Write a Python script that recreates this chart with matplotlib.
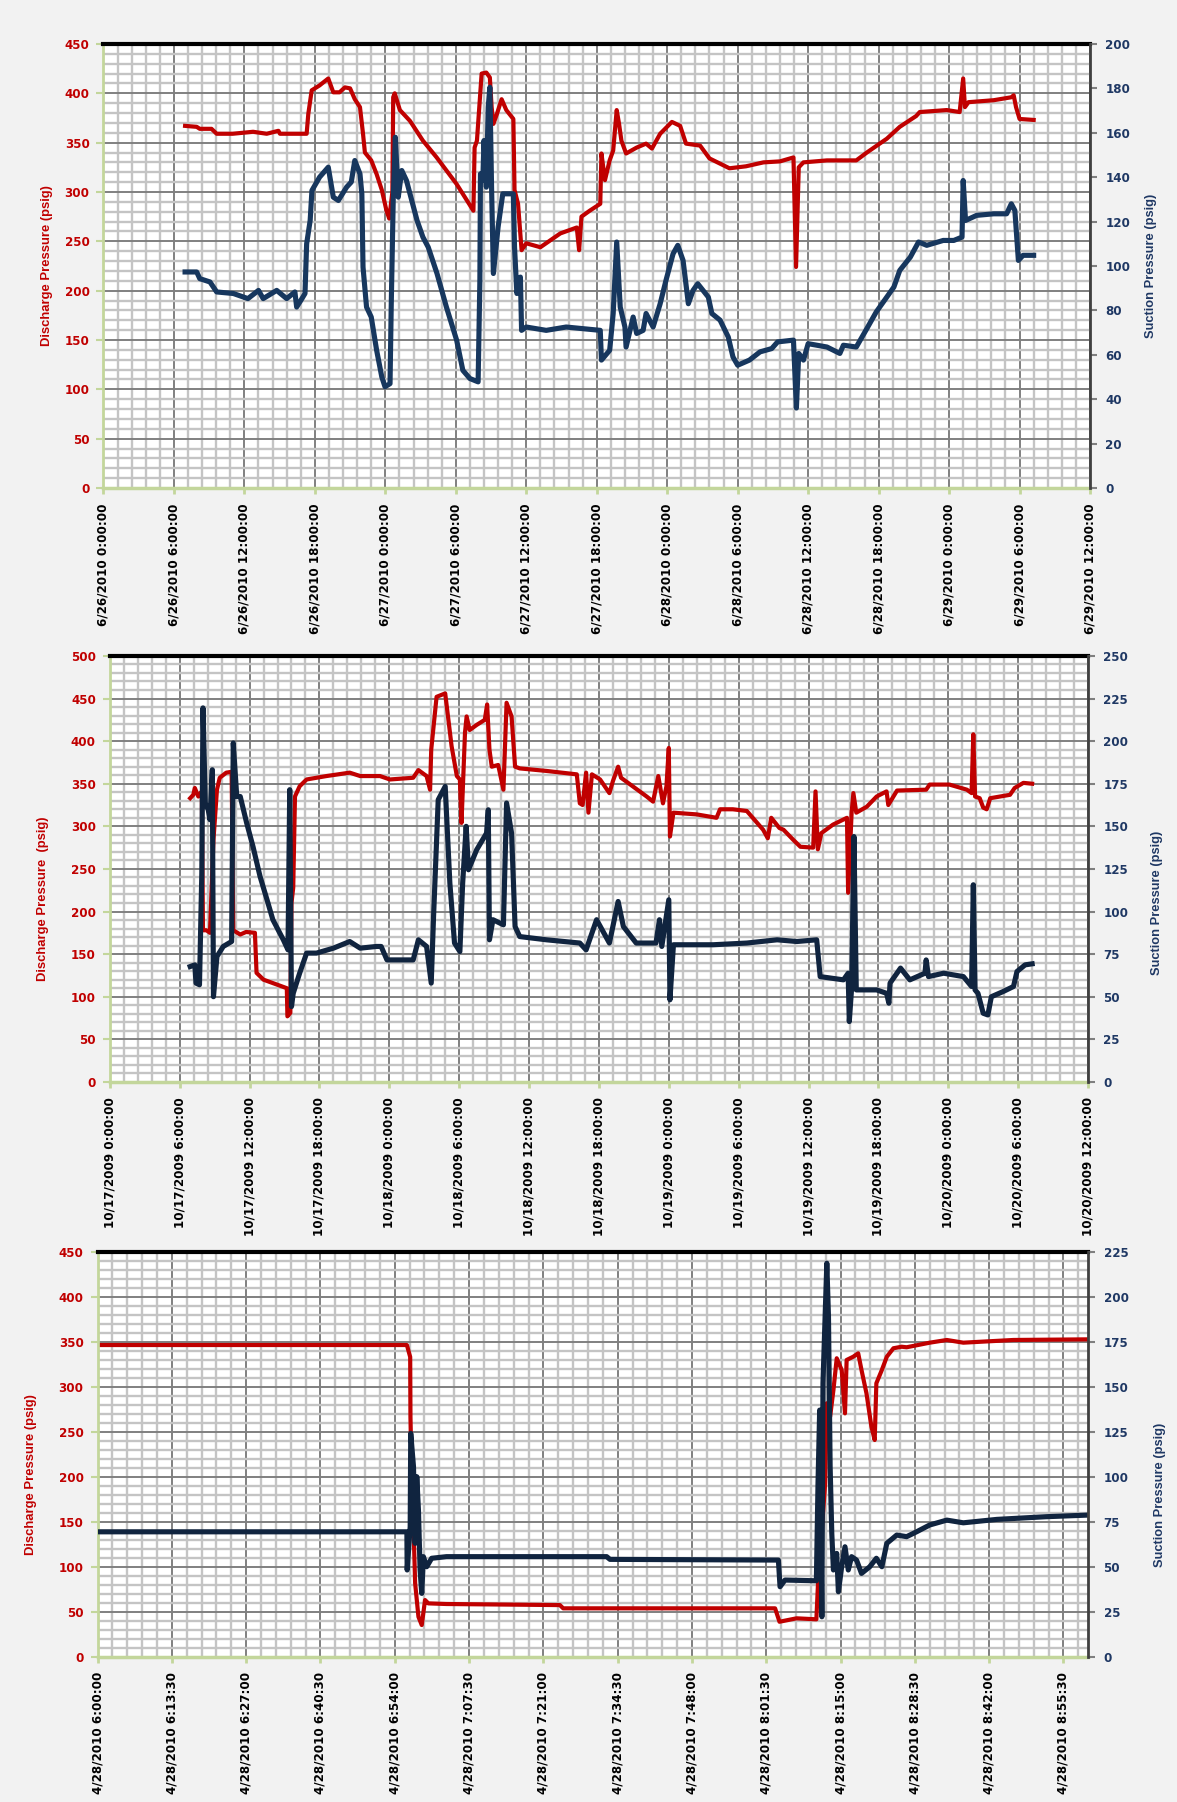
import matplotlib.pyplot as plt
from matplotlib.ticker import MultipleLocator

plt.rcParams['font.family'] = ['DejaVu Sans']
plt.rcParams['font.weight'] = 'bold'

RED = '#c00000'
NAVY = '#1f3864'
GREEN = '#c3d69b'

# ---------------- panel 1 : 6/26/2010 - 6/29/2010 (hours from 6/26 0:00)
top_dis_t = [6.95, 7.94, 8.2, 9.2, 9.64, 11.0, 12.74, 13.9, 14.9, 15.03, 17.3, 17.44, 17.73, 18.4,
             19.14, 19.57, 20.1, 20.56, 21.0, 21.4, 21.84, 22.1, 22.26, 22.8, 23.26, 23.7, 24.1,
             24.33, 24.6, 24.67, 24.8, 25.24, 26.1, 27.2, 28.37, 30.07, 31.5, 31.6, 31.8, 32.2,
             32.6, 32.9, 33.05, 33.2, 33.5, 33.9, 34.3, 34.9, 35.0, 35.3, 35.6, 36.0, 37.2, 38.9,
             40.3, 40.5, 40.7, 41.4, 42.3, 42.4, 42.7, 43.1, 43.4, 43.7, 43.9, 44.1, 44.5, 45.4,
             46.2, 46.7, 47.4, 48.4, 49.1, 49.6, 50.8, 51.6, 53.3, 54.7, 56.2, 57.6, 58.75, 58.97,
             59.2, 59.6, 61.6, 64.1, 65.0, 66.7, 67.8, 69.2, 69.5, 71.8, 72.9, 73.2, 73.35, 73.65,
             75.8, 77.3, 77.5, 77.7, 78.0, 79.2]
top_dis = [367, 366, 364, 364, 359, 359, 361, 359, 362, 359, 359, 379, 403, 408,
           415, 401, 401, 406, 405, 394, 386, 359, 340, 332, 318, 302, 281,
           273, 300, 396, 400, 383, 372, 352, 335, 308, 281, 345, 352, 420,
           421, 416, 386, 369, 379, 394, 383, 374, 302, 288, 241, 248, 244, 258,
           264, 241, 275, 281, 288, 339, 312, 332, 342, 383, 369, 352, 339, 345,
           349, 344, 359, 371, 367, 349, 347, 334, 324, 326, 330, 331, 335, 224,
           325, 330, 332, 332, 340, 354, 366, 377, 381, 383, 381, 415, 386, 391,
           393, 396, 398, 386, 374, 373]

top_suc_t = [6.95, 7.94, 8.2, 9.07, 9.64, 11.06, 12.3, 13.2, 13.6, 14.75, 15.6, 16.3, 16.45, 16.9,
             17.16, 17.3, 17.6, 17.75, 18.4, 19.14, 19.57, 20.0, 20.7, 21.1, 21.4, 21.84, 22.0,
             22.1, 22.4, 22.8, 23.26, 23.7, 23.97, 24.4, 24.5, 24.67, 24.85, 25.1, 25.4, 25.8,
             26.7, 27.2, 27.65, 28.4, 29.2, 30.07, 30.6, 31.2, 31.9, 32.05, 32.1, 32.3, 32.4,
             32.6, 32.76, 32.9, 33.05, 33.2, 33.6, 34.0, 34.9, 35.0, 35.2, 35.5, 35.6, 36.0,
             37.7, 39.4, 42.3, 42.4, 43.1, 43.4, 43.7, 44.0, 44.4, 44.5, 45.1, 45.4, 45.95,
             46.2, 46.8, 47.4, 47.9, 48.5, 48.9, 49.35, 49.8, 50.2, 50.6, 51.5, 51.8, 52.5,
             53.2, 53.6, 54.0, 55.0, 55.9, 56.9, 57.4, 58.75, 59.0, 59.2, 59.6, 60.0, 61.6,
             62.7, 63.0, 64.1, 65.0, 65.8, 66.7, 67.3, 67.8, 68.7, 69.4, 70.1, 71.5, 72.4,
             73.1, 73.2, 73.4, 74.35, 75.8, 76.9, 77.3, 77.6, 77.9, 78.3, 79.2]
top_suc = [97.3, 97.3, 94.3, 92.8, 88.3, 87.6, 85.3, 89, 85.3, 89, 85.3, 88.3, 81.5, 85.3,
           87.6, 110, 120.5, 134, 140, 144.5, 131, 129.5, 135.5, 137.8, 147.5, 141.5, 132.5,
           99.5, 81.5, 77, 62, 50, 45.6, 47, 81.5, 129.5, 158, 131, 143, 138.5,
           120.5, 113, 108.5, 96.6, 81.5, 66.6, 53, 49.3, 47.8, 93.6, 141.5, 138.5, 156.5,
           135.5, 171.5, 180.5, 134, 96.6, 117.5, 132.5, 132.5, 108.5, 87.6, 95, 71, 72.5,
           71, 72.5, 71, 57.6, 62, 78.6, 110.8, 81.5, 72.5, 63.5, 77, 69.6, 71,
           78.6, 72.5, 83, 93.6, 105.5, 109.3, 102.5, 83, 89, 92, 86, 78.6, 75.6,
           68, 59, 55.3, 57.6, 61.3, 62.8, 65.8, 66.6, 36, 60.6, 57.6, 65, 63.5,
           60.6, 64.3, 63.5, 71.8, 79.3, 86, 90.5, 98, 104, 110.8, 109.3, 111.5, 111.5,
           113, 138.5, 120.5, 122.8, 123.5, 123.5, 128, 125, 102.5, 104.8, 104.8]

top_xlabels = ["6/26/2010 0:00:00", "6/26/2010 6:00:00", "6/26/2010 12:00:00", "6/26/2010 18:00:00",
               "6/27/2010 0:00:00", "6/27/2010 6:00:00", "6/27/2010 12:00:00", "6/27/2010 18:00:00",
               "6/28/2010 0:00:00", "6/28/2010 6:00:00", "6/28/2010 12:00:00", "6/28/2010 18:00:00",
               "6/29/2010 0:00:00", "6/29/2010 6:00:00", "6/29/2010 12:00:00"]

# ---------------- panel 2 : 10/17/2009 - 10/20/2009 (hours from 10/17 0:00)
mid_dis_t = [6.9, 7.17, 7.3, 7.6, 7.9, 8.0, 8.3, 8.6, 8.9, 9.2, 9.44, 10.0, 10.46, 10.6, 11.2, 11.7,
             12.46, 12.6, 13.2, 14.0, 15.2, 15.25, 15.5, 15.6, 15.75, 15.9, 16.3, 16.9, 18.6, 20.6,
             21.5, 23.2, 24.05, 26.05, 26.5, 27.2, 27.5, 27.6, 28.06, 28.8, 29.35, 29.8, 30.06,
             30.2, 30.5, 30.64, 30.9, 31.5, 32.2, 32.4, 32.6, 32.8, 33.35, 33.8, 34.07, 34.5, 34.8,
             35.2, 37.5, 40.1, 40.36, 40.6, 40.9, 41.1, 41.4, 42.1, 42.9, 43.2, 43.65, 43.9, 44.9,
             46.1, 46.65, 47.1, 47.5, 47.8, 48.0, 48.1, 48.4, 50.4, 52.1, 52.4, 53.5, 54.7, 56.1,
             56.5, 56.8, 57.5, 57.85, 58.7, 59.3, 60.4, 60.6, 60.8, 61.1, 62.1, 63.3, 63.4, 63.7,
             63.85, 64.1, 65.0, 65.85, 66.7, 66.85, 67.6, 70.1, 70.4, 72.1, 73.6, 74.0, 74.15,
             74.3, 74.7, 75.0, 75.3, 75.6, 77.3, 77.7, 78.45, 79.2]
mid_dis = [333, 337, 345, 335, 341, 178, 178, 175, 284, 343, 357, 363, 364, 178, 173, 176,
           175, 128, 120, 116, 110, 77, 81, 210, 228, 335, 347, 355, 359, 363,
           359, 359, 355, 357, 366, 359, 343, 390, 452, 456, 394, 359, 355,
           304, 410, 429, 413, 419, 425, 443, 390, 370, 372, 343, 445, 429, 370,
           368, 365, 361, 327, 325, 363, 316, 361, 355, 339, 353, 370, 357, 347,
           335, 329, 359, 327, 347, 392, 288, 316, 314, 310, 320, 320, 318, 296,
           286, 310, 298, 296, 284, 276, 275, 341, 273, 292, 302, 310, 222, 316,
           339, 316, 323, 335, 341, 325, 342, 343, 349, 349, 343, 339, 408,
           335, 333, 322, 320, 333, 337, 345, 351, 350]

mid_suc_t = [6.9, 7.3, 7.4, 7.7, 7.9, 8.0, 8.2, 8.45, 8.6, 8.8, 8.9, 9.2, 9.74, 10.46, 10.6, 10.9,
             11.2, 11.75, 12.3, 12.9, 13.5, 14.0, 14.9, 15.3, 15.45, 15.6, 15.75, 16.3, 16.9,
             17.75, 19.2, 20.6, 21.5, 22.9, 23.3, 23.8, 26.05, 26.5, 27.2, 27.6, 27.8, 28.2,
             28.8, 29.2, 29.6, 30.06, 30.3, 30.6, 30.8, 31.5, 32.35, 32.5, 32.6, 32.9, 33.8,
             34.07, 34.5, 34.8, 35.2, 37.5, 40.36, 40.9, 41.8, 42.9, 43.65, 44.1, 45.2, 46.9,
             47.2, 47.4, 48.0, 48.1, 48.4, 51.8, 54.7, 57.3, 59.0, 60.7, 61.0, 63.0, 63.4, 63.5,
             63.7, 63.9, 64.1, 65.85, 66.7, 66.9, 67.0, 67.9, 68.7, 70.0, 70.1, 70.3, 71.6,
             73.3, 74.0, 74.15, 74.3, 74.55, 75.0, 75.4, 75.7, 76.7, 77.6, 77.9, 78.6, 79.2]
mid_suc = [67.7, 68.7, 58, 57, 122.6, 219.5, 163.7, 159.7, 153.9, 183.2, 50, 73.6, 79.5, 82.4,
           198.9, 167.5, 167.5, 152, 138, 120.6, 106.9, 95.2, 83.4, 77.5, 171.5, 44.2, 52,
           63.8, 75.6, 75.6, 78.5, 82.4, 78.5, 79.5, 79.5, 71.6, 71.6, 83.4, 79.5, 58, 97,
           165.6, 173.4, 116.7, 81.5, 76.5, 116.7, 150, 124.5, 136.2, 146, 159.7, 83.4, 95.2,
           92.2, 163.7, 146, 91.2, 85.3, 83.4, 81.5, 77.5, 95.2, 81.5, 105.9, 91.2, 81.5, 81.5,
           95.2, 79.5, 106.9, 48.2, 80.5, 80.5, 81.5, 83.4, 82.4, 83.4, 61.8, 59.9, 63.8, 35.4,
           55, 144, 54, 54, 52, 46.2, 58, 66.8, 59.9, 63.8, 71.6, 61.8, 63.8,
           61.8, 56, 115.7, 54, 52, 40.3, 39.3, 50, 53, 56, 64.8, 68.7, 69.3]

mid_xlabels = ["10/17/2009 0:00:00", "10/17/2009 6:00:00", "10/17/2009 12:00:00", "10/17/2009 18:00:00",
               "10/18/2009 0:00:00", "10/18/2009 6:00:00", "10/18/2009 12:00:00", "10/18/2009 18:00:00",
               "10/19/2009 0:00:00", "10/19/2009 6:00:00", "10/19/2009 12:00:00", "10/19/2009 18:00:00",
               "10/20/2009 0:00:00", "10/20/2009 6:00:00", "10/20/2009 12:00:00"]

# ---------------- panel 3 : 4/28/2010 6:00 - 9:00 (minutes from 6:00)
bot_dis_t = [0, 56.2, 56.8, 56.85, 57.1, 57.4, 57.7, 58.3, 58.9, 59.5, 60.1, 63.4, 84.0, 84.6,
             123.1, 123.9, 127.0, 130.6, 130.9, 132.2, 132.5, 133.1, 133.7, 134.3, 135.2, 135.8,
             136.1, 137.3, 138.2, 138.8, 139.7, 140.6, 141.2, 141.5, 142.5, 143.4, 144.6, 146.1,
             147.0, 151.2, 154.3, 157.3, 166.4, 180.0]
bot_dis = [346.3, 346.3, 333, 266.7, 192.7, 144.4, 81.6, 44.4, 35.2, 63, 59.3, 58.6, 57.4, 53.8,
           53.8, 38.9, 42.7, 41.6, 81.6, 192.7, 281.6, 266.7, 296.3, 331.6, 318.6, 270.4,
           329.7, 333.3, 337.1, 318.6, 292.7, 255.6, 240.8, 303.8, 318.6, 333.3, 342.7, 344.4,
           343.8, 348.9, 351.9, 348.9, 351.9, 352.6]

bot_suc_t = [0, 56.2, 56.25, 56.8, 56.9, 57.4, 57.7, 58.0, 58.3, 58.6, 58.9, 59.2, 59.8, 60.7,
             63.4, 92.5, 93.1, 123.7, 124.0, 124.9, 130.6, 130.9, 131.2, 131.6, 131.8, 132.5,
             132.8, 133.1, 133.4, 133.7, 134.3, 134.6, 135.2, 135.8, 136.4, 137.0, 137.9, 138.8,
             140.3, 141.5, 142.5, 143.4, 145.2, 147.0, 148.8, 151.2, 154.3, 157.3, 163.4, 172.4, 180.0]
bot_suc = [69.4, 69.4, 48.2, 72.2, 124.1, 105.6, 63, 100, 81.5, 48.2, 35.2, 55.6, 50, 54.7,
           55.6, 55.6, 54.1, 53.7, 38.9, 42.6, 42.2, 96.3, 137, 22.2, 151.9, 218.6,
           188.9, 105.6, 68.6, 48.2, 57.4, 36.1, 50, 61.1, 48.2, 55.6, 53.7, 46.3,
           50, 54.7, 50, 63, 67.6, 66.7, 69.4, 73.2, 75.9, 74.4, 76.3, 77.8, 78.7]

bot_xlabels = ["4/28/2010 6:00:00", "4/28/2010 6:13:30", "4/28/2010 6:27:00", "4/28/2010 6:40:30",
               "4/28/2010 6:54:00", "4/28/2010 7:07:30", "4/28/2010 7:21:00", "4/28/2010 7:34:30",
               "4/28/2010 7:48:00", "4/28/2010 8:01:30", "4/28/2010 8:15:00", "4/28/2010 8:28:30",
               "4/28/2010 8:42:00", "4/28/2010 8:55:30"]

fig = plt.figure(figsize=(11.77, 18.02), dpi=100, facecolor='#f2f2f2')


def panel(rect, dis_t, dis, suc_t, suc, xmax, xstep, xlabels, lmax, rmax, rstep,
          dis_label, suc_label, lab_x, lab_y, navy):
    ax = fig.add_axes(rect)
    ax.set_facecolor('white')
    ax.plot(dis_t, dis, color=RED, lw=3.0, solid_joinstyle='round')
    ax.set_xlim(0, xmax)
    ax.set_ylim(0, lmax)
    ax.xaxis.set_minor_locator(MultipleLocator(xstep / 5))
    ax.yaxis.set_major_locator(MultipleLocator(50))
    ax.yaxis.set_minor_locator(MultipleLocator(10))
    ax.set_xticks([i * xstep for i in range(len(xlabels))])
    ax.set_xticklabels(xlabels, rotation=90, fontsize=8.6)
    ax.set_axisbelow(True)
    ax.grid(which='minor', color='#c4c4c4', lw=1.7)
    ax.grid(which='major', color='#808080', lw=1.4)
    ax.tick_params(axis='x', which='major', direction='out', length=4, width=2,
                   color=GREEN, pad=7)
    ax.tick_params(axis='y', which='major', direction='out', length=5, width=1.5,
                   color=GREEN, labelcolor=RED, labelsize=8.6, pad=5)
    ax.tick_params(which='minor', length=0)
    ax.spines['top'].set_color('black')
    ax.spines['top'].set_linewidth(3)
    ax.spines['right'].set_visible(False)
    ax.spines['left'].set_color(GREEN)
    ax.spines['left'].set_linewidth(2)
    ax.spines['bottom'].set_color(GREEN)
    ax.spines['bottom'].set_linewidth(2.5)
    ax.set_ylabel(dis_label, color=RED, fontsize=9.4, family='Liberation Sans',
                  fontweight='bold', va='center')
    ax.yaxis.set_label_coords(lab_x[0], lab_y[0])

    ax2 = ax.twinx()
    ax2.plot(suc_t, suc, color=navy, lw=3.7, solid_joinstyle='round')
    ax2.set_ylim(0, rmax)
    ax2.yaxis.set_major_locator(MultipleLocator(rstep))
    for s in ['top', 'left', 'bottom']:
        ax2.spines[s].set_visible(False)
    ax2.spines['right'].set_color('#404040')
    ax2.spines['right'].set_linewidth(2)
    ax2.tick_params(axis='y', direction='out', length=5, width=1.5, color='#7f7f7f',
                    labelcolor=NAVY, labelsize=8.6, pad=6)
    ax2.set_ylabel(suc_label, color=NAVY, fontsize=9.3, family='Liberation Sans',
                   fontweight='bold', va='center')
    ax2.yaxis.set_label_coords(lab_x[1], lab_y[1])
    return ax, ax2


panel([0.0879, 0.7292, 0.8382, 0.2464], top_dis_t, top_dis, top_suc_t, top_suc,
      84, 6, top_xlabels, 450, 200, 20,
      'Discharge Pressure (psig)', 'Suction Pressure (psig)',
      (-0.057, 1.062), (0.5, 0.5), '#17375e')

panel([0.0933, 0.3996, 0.8311, 0.2364], mid_dis_t, mid_dis, mid_suc_t, mid_suc,
      84, 6, mid_xlabels, 500, 250, 25,
      'Discharge Pressure  (psig)', 'Suction Pressure (psig)',
      (-0.068, 1.071), (0.43, 0.42), '#10243f')

panel([0.0829, 0.0806, 0.8417, 0.2248], bot_dis_t, bot_dis, bot_suc_t, bot_suc,
      180, 13.5, bot_xlabels, 450, 225, 25,
      'Discharge Pressure (psig)', 'Suction Pressure (psig)',
      (-0.067, 1.072), (0.45, 0.40), '#10243f')

fig.savefig('out.png', dpi=100, facecolor=fig.get_facecolor())
